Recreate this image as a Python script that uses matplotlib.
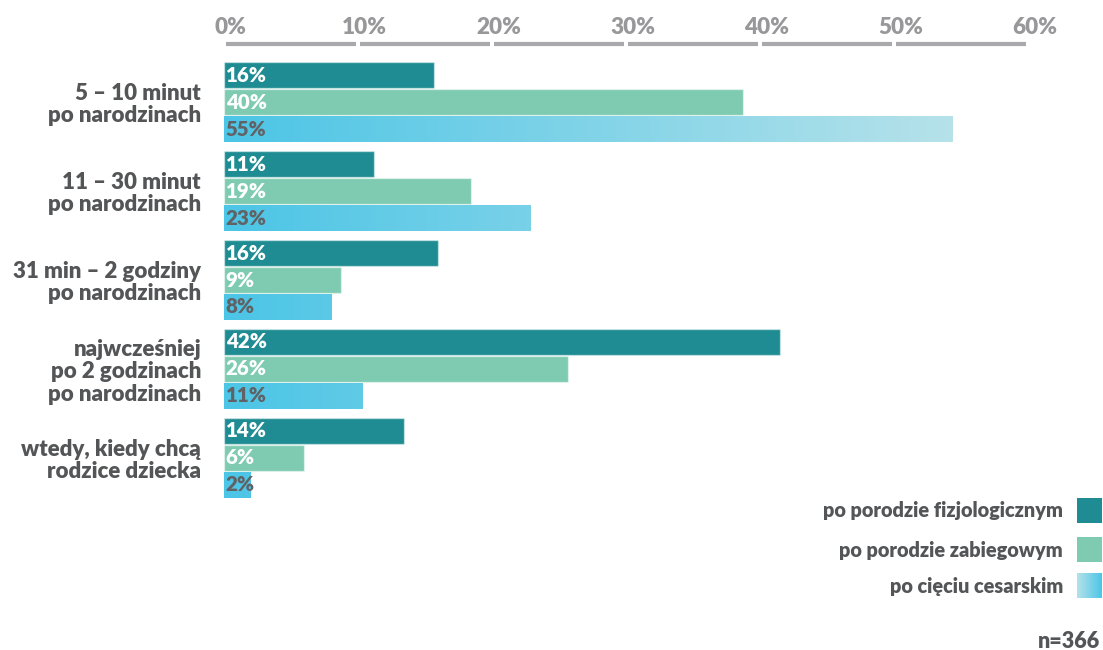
import matplotlib
matplotlib.use("Agg")
import matplotlib.pyplot as plt
import numpy as np
from matplotlib.colors import LinearSegmentedColormap
from matplotlib.transforms import blended_transform_factory

plt.rcParams["font.family"] = ["Lato", "DejaVu Sans"]
plt.rcParams["font.weight"] = "bold"

categories = [
    "5 – 10 minut\npo narodzinach",
    "11 – 30 minut\npo narodzinach",
    "31 min – 2 godziny\npo narodzinach",
    "najwcześniej\npo 2 godzinach\npo narodzinach",
    "wtedy, kiedy chcą\nrodzice dziecka",
]
series_names = ["po porodzie fizjologicznym", "po porodzie zabiegowym", "po cięciu cesarskim"]

# bar lengths as drawn, and the rounded labels printed on them
fizjologiczny = [15.7, 11.2, 16.0, 41.5, 13.4]
zabiegowy = [38.7, 18.4, 8.7, 25.7, 6.0]
cesarskie = [54.4, 22.9, 8.0, 10.3, 2.0]
fizjologiczny_labels = ["16%", "11%", "16%", "42%", "14%"]
zabiegowy_labels = ["40%", "19%", "9%", "26%", "6%"]
cesarskie_labels = ["55%", "23%", "8%", "11%", "2%"]

x_ticks = [0, 10, 20, 30, 40, 50, 60]
sample_note = "n=366"

TEAL = "#1e8c92"
GREEN = "#7ecbb2"
BLUE_START = "#4cc5e6"
BLUE_END = "#b6e2ea"
LABEL_DARK = "#535557"
AXIS_GREY = "#98989a"

W, H = 1103, 650
fig = plt.figure(figsize=(W / 100, H / 100), dpi=100)
ax = fig.add_axes([224 / W, (H - 503) / H, 804 / W, 446 / H])

step = 27 / 89
height = 26 / 89
y = np.arange(len(categories))

ax.barh(y - step, fizjologiczny, height=height, color=TEAL,
        edgecolor=(1, 1, 1, 0.45), linewidth=1)
ax.barh(y, zabiegowy, height=height, color=GREEN,
        edgecolor=(1, 1, 1, 0.45), linewidth=1)
blue_bars = ax.barh(y + step, cesarskie, height=height, color="none",
                    edgecolor=(1, 1, 1, 0.45), linewidth=1)

blue_cmap = LinearSegmentedColormap.from_list("blue_fade", [BLUE_START, BLUE_END])
gradient = np.linspace(0, 1, 256).reshape(1, -1)
grad_max = max(cesarskie)
for patch in blue_bars:
    y0 = patch.get_y()
    im = ax.imshow(gradient, cmap=blue_cmap, aspect="auto",
                   extent=[0, grad_max, y0 + patch.get_height(), y0],
                   interpolation="bilinear", zorder=1.5)
    im.set_clip_path(patch)

ax.set_xlim(0, 60)
ax.set_ylim(len(categories) - 0.494, -0.506)

for vals, labels, color, off in [
    (fizjologiczny, fizjologiczny_labels, "white", -step),
    (zabiegowy, zabiegowy_labels, "white", 0),
    (cesarskie, cesarskie_labels, "#606265", step),
]:
    for yi, lab in zip(y, labels):
        ax.text(0.12, yi + off, lab, color=color, fontsize=14.8,
                fontweight="heavy", va="center", ha="left", zorder=3)

ax.set_yticks(y)
ax.set_yticklabels(categories, fontsize=16, color=LABEL_DARK,
                   fontweight="heavy", ha="right", linespacing=1.08)
ax.tick_params(axis="y", length=0, pad=16.5)
ax.set_xticks([])
for s in ax.spines.values():
    s.set_visible(False)

# top scale: labels and segmented rule
top = blended_transform_factory(ax.transData, ax.transAxes)
for t in x_ticks:
    ax.text(t + 0.5, 1 + 30 / 446, f"{t}%", transform=top, ha="center",
            va="center", fontsize=16.2, fontweight="heavy", color=AXIS_GREY,
            clip_on=False)
for a, b in zip(x_ticks[:-1], x_ticks[1:]):
    ax.plot([a + 0.12, b - 0.12], [1 + 13 / 446] * 2, transform=top,
            color="#a9a9ab", lw=3, solid_capstyle="butt", clip_on=False)

# legend
legend_rows = [(498, TEAL), (537, GREEN), (573, None)]
for name, (top_px, color) in zip(series_names, legend_rows):
    lax = fig.add_axes([1077 / W, (H - top_px - 25) / H, 25 / W, 25 / H])
    lax.set_axis_off()
    if color is None:
        lax.imshow(gradient, cmap=blue_cmap.reversed(), aspect="auto",
                   extent=[0, 1, 0, 1])
    else:
        lax.add_patch(plt.Rectangle((0, 0), 1, 1, color=color))
    lax.set_xlim(0, 1)
    lax.set_ylim(0, 1)
    fig.text(1063 / W, (H - top_px - 13) / H, name, ha="right", va="center",
             fontsize=14.3, fontweight="heavy", color=LABEL_DARK)

fig.text(1100 / W, (H - 641) / H, sample_note, ha="right", va="center",
         fontsize=15.5, fontweight="heavy", color=LABEL_DARK)

fig.savefig("out.png", dpi=100)
plt.close(fig)
